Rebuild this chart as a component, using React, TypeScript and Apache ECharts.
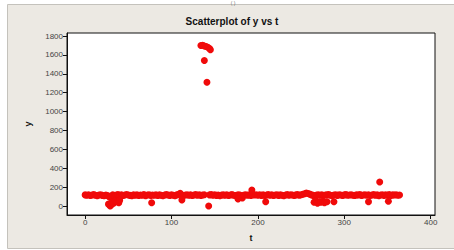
import React, { useEffect, useRef } from "react";
import * as echarts from "echarts";

// Daily band values, t = 0, 2, 4, ... 364 (null = no observation drawn)
const bandY: (number | null)[] = [
  118, 115, 120, 112, 117, 121, 114, 110, 116, 119, 113, 108, 117, 112, 95, 103, 118, 110, 116, 121,
  114, 119, 111, 116, 122, 117, 113, 109, 118, 115, 120, 112, 117, 114, 121, 108, 116, 119, 113, 117,
  115, 120, 112, 118, 114, 109, 117, 121, 116, 113, 119, 115, 110, 118, 122, 135, 117, 112, 116, 120,
  114, 118, 111, 117, 121, 115, 119, 113, 116, 120, null, null, 118, 121, 115, 119, 113, 117, 110, 116,
  118, 114, 120, 112, 117, 121, 115, 110, 116, 119, 113, 85, 117, 120, 114, 118, 112, 121, 116, 119,
  115, 120, 113, 118, 111, 117, 121, 114, 119, 112, 116, 120, 113, 118, 115, 110, 117, 121, 114, 119,
  116, 112, 118, 121, 115, 119, 124, 130, 138, 132, 126, 118, 113, 108, 117, 120, 114, 119, 112, 116,
  118, 121, 115, 110, 117, 120, 113, 119, 116, 112, 118, 121, 114, 117, 120, 115, 111, 118, 116, 121,
  113, 117, 120, 115, 119, 112, 116, 121, 114, 118, 110, 117, 120, 113, 119, 115, 121, 112, 118, 116, 120, 114, 117,
];
const bandStep = 2;

// Off-band observations
const extraT = [27, 29, 30, 31, 33, 35, 37, 39, 40, 77, 112, 134, 136, 138, 140, 142, 144, 145, 138, 141, 143, 177, 193, 209, 265, 267, 269, 271, 273, 275, 277, 280, 288, 328, 341, 351];
const extraY = [20, 0, 10, 40, 30, 55, 45, 35, 60, 35, 65, 1700, 1702, 1695, 1690, 1682, 1668, 1655, 1540, 1310, 0, 75, 170, 45, 40, 55, 30, 45, 40, 50, 35, 45, 45, 45, 254, 50];

const xTicks = [0, 100, 200, 300, 400];
const yTicks = [0, 200, 400, 600, 800, 1000, 1200, 1400, 1600, 1800];

export default function App() {
  const ref = useRef<HTMLDivElement>(null);
  useEffect(() => {
    if (!ref.current) return;
    const chart = echarts.init(ref.current, null, { renderer: "svg" });
    const data: number[][] = [];
    bandY.forEach((y, i) => {
      if (y !== null) data.push([i * bandStep, y]);
    });
    extraT.forEach((t, i) => data.push([t, extraY[i]]));
    const labelStyle = {
      color: "#444",
      fontSize: 8,
      fontFamily: "Liberation Sans",
      formatter: (v: number) => String(v),
    };
    chart.setOption({
      animation: false,
      backgroundColor: "#ffffff",
      graphic: [
        {
          type: "rect",
          z: -100,
          shape: { x: 7.5, y: 4.5, width: 460, height: 244 },
          style: { fill: "#ece9e3", stroke: "#c4c2bc", lineWidth: 1 },
        },
        {
          type: "text",
          x: 233,
          y: 0,
          style: {
            text: "( )",
            fontSize: 5,
            fill: "#777",
            align: "center",
            verticalAlign: "top",
            fontFamily: "Liberation Sans",
          },
        },
        {
          type: "text",
          x: 232,
          y: 21,
          style: {
            text: "Scatterplot of y vs t",
            fontSize: 10,
            fontWeight: "bold",
            fill: "#111",
            align: "center",
            verticalAlign: "middle",
            fontFamily: "Liberation Sans",
          },
        },
      ],
      grid: {
        left: 67,
        right: 19,
        top: 33,
        bottom: 35,
        show: true,
        backgroundColor: "#ffffff",
        borderColor: "#111",
        borderWidth: 1,
      },
      xAxis: {
        type: "value",
        min: -21,
        max: 405,
        name: "t",
        nameLocation: "middle",
        nameGap: 18,
        nameTextStyle: { fontSize: 9, fontWeight: "bold", color: "#111", fontFamily: "Liberation Sans" },
        splitLine: { show: false },
        axisLine: { show: true, onZero: false, lineStyle: { color: "#111" } },
        axisTick: { show: true, length: 4, customValues: xTicks, lineStyle: { color: "#111" } },
        axisLabel: { ...labelStyle, margin: 3, customValues: xTicks },
      },
      yAxis: {
        type: "value",
        min: -95,
        max: 1832,
        name: "y",
        nameLocation: "middle",
        nameGap: 35,
        nameTextStyle: { fontSize: 9, fontWeight: "bold", color: "#111", fontFamily: "Liberation Sans" },
        splitLine: { show: false },
        axisLine: { show: true, onZero: false, lineStyle: { color: "#111" } },
        axisTick: { show: true, length: 4, customValues: yTicks, lineStyle: { color: "#111" } },
        axisLabel: { ...labelStyle, margin: 4, customValues: yTicks },
      },
      series: [
        {
          type: "scatter",
          data,
          symbol: "circle",
          symbolSize: 7,
          itemStyle: { color: "#f00a0a", opacity: 1 },
        },
      ],
    });
    return () => chart.dispose();
  }, []);
  return (
    <div
      ref={ref}
      style={{ position: "fixed", left: 0, top: 0, width: 454, height: 250 }}
    />
  );
}
